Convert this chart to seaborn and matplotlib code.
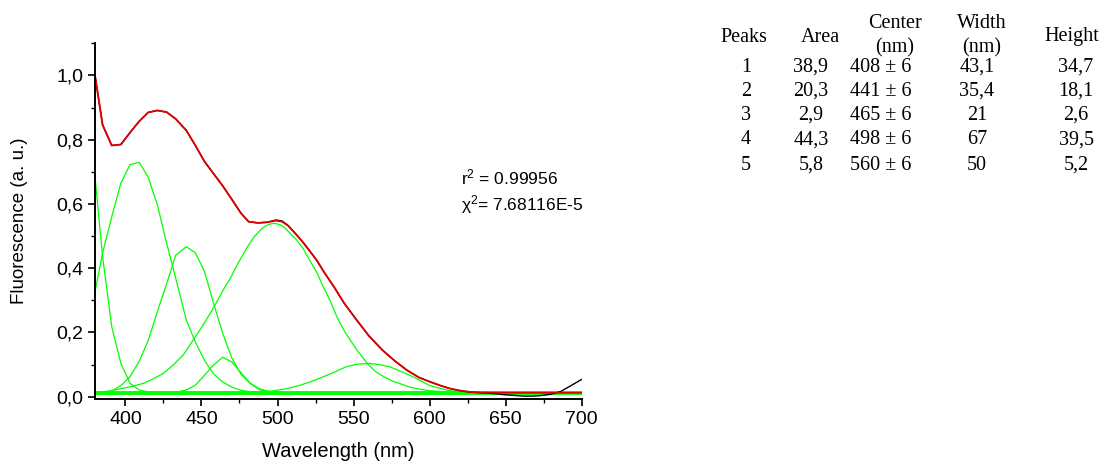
import matplotlib
matplotlib.use("Agg")
import matplotlib.pyplot as plt
import seaborn as sns
import pandas as pd

# ---------------- data ----------------
fit_wl = [380, 385, 391, 397, 403, 409, 415, 421, 427, 433, 440, 446, 452, 458, 464, 470,
          476, 481, 487, 493, 499, 503, 507, 511, 516, 521, 526, 531, 537, 544, 552, 560,
          569, 577, 585, 593, 600, 607, 613, 620, 627, 635, 650, 700]
fit_val = [1.0, 0.846, 0.782, 0.785, 0.822, 0.857, 0.885, 0.891, 0.886, 0.865, 0.829, 0.782,
           0.732, 0.694, 0.656, 0.614, 0.571, 0.545, 0.541, 0.543, 0.548, 0.545, 0.532, 0.512,
           0.485, 0.455, 0.423, 0.385, 0.343, 0.290, 0.239, 0.190, 0.145, 0.112, 0.083, 0.060,
           0.047, 0.035, 0.026, 0.019, 0.015, 0.013, 0.0125, 0.0125]

data_wl = [380, 385, 391, 397, 403, 409, 415, 421, 427, 433, 440, 446, 452, 458, 464, 470,
           476, 481, 487, 493, 499, 503, 507, 511, 516, 521, 526, 531, 537, 544, 552, 560,
           569, 577, 585, 593, 600, 607, 613, 620, 627, 635, 642, 650, 656, 662, 668, 674,
           680, 686, 692, 700]
data_val = [1.0, 0.846, 0.782, 0.785, 0.822, 0.857, 0.885, 0.891, 0.886, 0.865, 0.829, 0.782,
            0.732, 0.694, 0.656, 0.614, 0.571, 0.545, 0.541, 0.543, 0.550, 0.547, 0.533, 0.512,
            0.485, 0.455, 0.423, 0.385, 0.343, 0.290, 0.239, 0.190, 0.145, 0.112, 0.083, 0.060,
            0.047, 0.035, 0.026, 0.019, 0.014, 0.012, 0.010, 0.006, 0.004, 0.002, 0.002, 0.004,
            0.008, 0.016, 0.032, 0.054]

base_wl = [380, 700]
base_val = [0.0125, 0.0125]

compA_wl = [380, 385, 391, 397, 403, 409, 415, 421, 440]
compA_val = [0.685, 0.436, 0.218, 0.104, 0.042, 0.021, 0.015, 0.013, 0.0125]

comp1_wl = [380, 385, 391, 397, 403, 409, 415, 421, 427, 433, 440, 446, 452, 458, 464, 470,
            476, 482, 488, 494, 510]
comp1_val = [0.327, 0.447, 0.56, 0.665, 0.722, 0.730, 0.683, 0.597, 0.48, 0.37, 0.239, 0.17,
             0.113, 0.071, 0.046, 0.030, 0.020, 0.016, 0.014, 0.013, 0.0125]

comp2_wl = [380, 391, 397, 403, 409, 415, 421, 427, 433, 440, 446, 452, 458, 464, 470, 476,
            482, 488, 494, 500, 515]
comp2_val = [0.013, 0.018, 0.035, 0.062, 0.110, 0.175, 0.265, 0.35, 0.44, 0.467, 0.448, 0.39,
             0.29, 0.197, 0.12, 0.07, 0.042, 0.025, 0.017, 0.014, 0.0125]

comp3_wl = [380, 428, 434, 440, 446, 452, 458, 464, 470, 476, 482, 488, 494, 500, 520]
comp3_val = [0.0125, 0.013, 0.015, 0.021, 0.036, 0.067, 0.099, 0.123, 0.108, 0.075, 0.042,
             0.022, 0.015, 0.013, 0.0125]

comp4_wl = [380, 390, 398, 405, 412, 418, 425, 431, 438, 446, 452, 459, 464, 469, 474, 480,
            485, 490, 494, 498, 502, 505, 509, 513, 517, 521, 526, 530, 535, 539, 543, 548,
            553, 559, 564, 570, 575, 581, 587, 594, 600, 610, 620, 640]
comp4_val = [0.013, 0.018, 0.026, 0.033, 0.042, 0.055, 0.073, 0.097, 0.13, 0.187, 0.23, 0.286,
             0.33, 0.369, 0.415, 0.465, 0.50, 0.525, 0.536, 0.540, 0.535, 0.525, 0.505, 0.486,
             0.46, 0.426, 0.385, 0.343, 0.295, 0.249, 0.212, 0.175, 0.14, 0.104, 0.08, 0.062,
             0.05, 0.04, 0.03, 0.023, 0.019, 0.015, 0.013, 0.0125]

comp5_wl = [380, 460, 480, 495, 505, 515, 522, 530, 538, 545, 552, 560, 567, 574, 580, 587,
            594, 600, 607, 613, 620, 630, 645]
comp5_val = [0.0125, 0.013, 0.014, 0.017, 0.024, 0.036, 0.047, 0.062, 0.078, 0.093, 0.101,
             0.104, 0.1, 0.093, 0.081, 0.067, 0.05, 0.035, 0.026, 0.019, 0.016, 0.013, 0.0125]

x_ticks = [400, 450, 500, 550, 600, 650, 700]
x_ticklabels = ["400", "450", "500", "550", "600", "650", "700"]
y_ticks = [0.0, 0.2, 0.4, 0.6, 0.8, 1.0]
y_ticklabels = ["0,0", "0,2", "0,4", "0,6", "0,8", "1,0"]

stats_lines = ["r$^2$ = 0.99956", "χ$^2$= 7.68116E-5"]

tbl_peaks = ["1", "2", "3", "4", "5"]
tbl_area = ["38,9", "20,3", "2,9", "44,3", "5,8"]
tbl_center = ["408 ± 6", "441 ± 6", "465 ± 6", "498 ± 6", "560 ± 6"]
tbl_width = ["43,1", "35,4", "21", "67", "50"]
tbl_height = ["34,7", "18,1", "2,6", "39,5", "5,2"]

# ---------------- figure ----------------
sns.set_style("ticks")
plt.rcParams["font.family"] = ["Liberation Sans", "DejaVu Sans"]
plt.rcParams["mathtext.fontset"] = "custom"
plt.rcParams["mathtext.rm"] = "Liberation Sans"
plt.rcParams["mathtext.it"] = "Liberation Sans:italic"
plt.rcParams["text.color"] = "black"
plt.rcParams["axes.labelcolor"] = "black"

W, H = 1108, 465
fig = plt.figure(figsize=(W / 100, H / 100), dpi=100)
ax = fig.add_axes([95 / W, 1 - 399 / H, (581.7 - 95) / W, (399 - 43.3) / H])

GREEN = "#00ff00"
comps = [(compA_wl, compA_val), (comp1_wl, comp1_val), (comp2_wl, comp2_val),
         (comp3_wl, comp3_val), (comp4_wl, comp4_val), (comp5_wl, comp5_val)]
for wl, val in comps:
    df = pd.DataFrame({"wl": wl, "v": val})
    sns.lineplot(data=df, x="wl", y="v", ax=ax, color=GREEN, lw=0.9, sort=False,
                 estimator=None)

sns.lineplot(x=base_wl, y=base_val, ax=ax, color=GREEN, lw=2.8, estimator=None)
sns.lineplot(x=data_wl, y=data_val, ax=ax, color="black", lw=1.0, sort=False, estimator=None)
sns.lineplot(x=fit_wl, y=fit_val, ax=ax, color="#e00000", lw=1.3, sort=False, estimator=None)

ax.set_xlim(380, 700)
ax.set_ylim(-0.007, 1.1)
ax.set_xticks(x_ticks)
ax.set_xticklabels(x_ticklabels)
ax.set_yticks(y_ticks)
ax.set_yticklabels(y_ticklabels)
ax.set_xticks([425, 475, 525, 575, 625, 675], minor=True)
ax.set_yticks([0.1, 0.3, 0.5, 0.7, 0.9, 1.1], minor=True)
ax.tick_params(axis="both", which="major", direction="out", length=5, width=1.2,
               labelsize=14, colors="black")
ax.tick_params(axis="both", which="minor", direction="out", length=3, width=1.0,
               colors="black")
for s in ["top", "right"]:
    ax.spines[s].set_visible(False)
for s in ["left", "bottom"]:
    ax.spines[s].set_linewidth(1.4)
    ax.spines[s].set_color("black")

ax.set_xlabel("Wavelength (nm)", fontsize=14.5, labelpad=10, color="black")
ax.set_ylabel("Fluorescence (a. u.)", fontsize=13.5, labelpad=20, color="black")

# fit statistics
fig.text(461 / W, 1 - 177 / H, stats_lines[0], fontsize=12.5, va="center", ha="left",
         color="black")
fig.text(461 / W, 1 - 205 / H, stats_lines[1], fontsize=12.5, va="center", ha="left",
         color="black")

# parameter table
serif = ["Liberation Serif", "DejaVu Serif"]
tfs = 14.5
def ttext(x, y, s):
    fig.text(x / W, 1 - y / H, s, fontsize=tfs, family=serif, ha="center", va="center",
             color="black")

ttext(744, 37, "Peaks")
ttext(820, 37, "Area")
ttext(895, 24, "Center")
ttext(895, 48, "(nm)")
ttext(982, 24, "Width")
ttext(982, 48, "(nm)")
ttext(1072, 37, "Height")
row_y = [67, 91, 115, 140, 165]
for i, y in enumerate(row_y):
    ttext(746, y, tbl_peaks[i])
    ttext(811, y, tbl_area[i])
    ttext(881, y, tbl_center[i])
    ttext(977, y, tbl_width[i])
    ttext(1076, y, tbl_height[i])

fig.savefig("out.png", dpi=100)
